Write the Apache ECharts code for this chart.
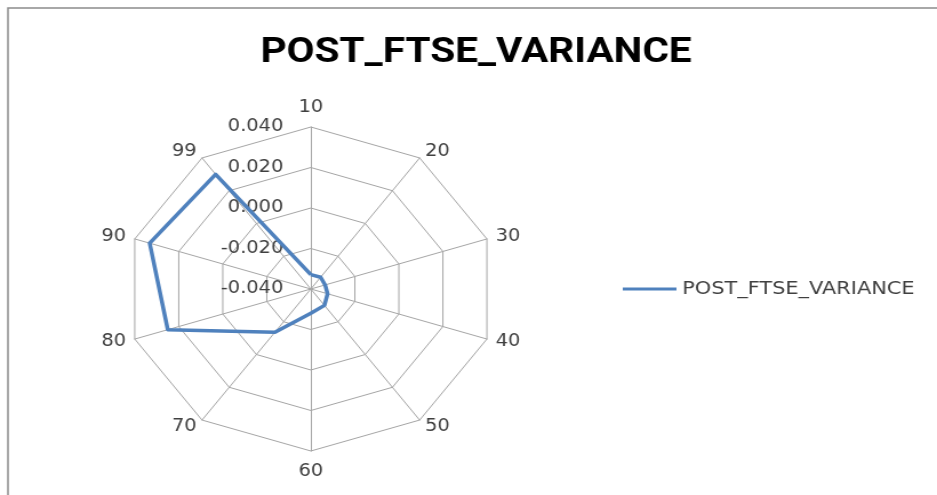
<!DOCTYPE html>
<html><head><meta charset="utf-8">
<script src="https://cdn.jsdelivr.net/npm/echarts@6/dist/echarts.min.js"></script>
<style>
html,body{margin:0;padding:0;background:#fff;overflow:hidden}
#wrap{width:937px;height:495px;overflow:hidden;position:relative}
#chart{width:820px;height:495px;transform:scaleX(1.1427);transform-origin:0 0}
</style></head><body>
<div id="wrap"><div id="chart"></div></div>
<script>
const chartTitle = 'POST_FTSE_VARIANCE';
const seriesName = 'POST_FTSE_VARIANCE';
const categories = ['10', '20', '30', '40', '50', '60', '70', '80', '90', '99'];
const values = [-0.0329, -0.0328, -0.0335, -0.0324, -0.0300, -0.0280, -0.0136, 0.0250, 0.0332, 0.0300];
const radialTicks = [-0.04, -0.02, 0, 0.02, 0.04];

// ECharts places radar indicators counter-clockwise; reorder so the chart reads clockwise
const order = [0].concat(categories.map((c, i) => i).slice(1).reverse());
const lblFont = 'DejaVu Sans';
const indicator = order.map((i, k) => {
  const ind = { name: categories[i], min: radialTicks[0], max: radialTicks[radialTicks.length - 1] };
  if (k === 0) {
    ind.nameGap = 11;
    ind.axisLabel = {
      show: true, margin: 24, color: '#404040', fontSize: 17, fontFamily: lblFont,
      formatter: v => v.toFixed(3)
    };
  }
  if (categories[i] === '60') ind.nameGap = 12;
  return ind;
});
const data = order.map(i => values[i]);

const chart = echarts.init(document.getElementById('chart'), null, { renderer: 'canvas' });
chart.setOption({
  animation: false,
  backgroundColor: '#fff',
  title: {
    text: chartTitle, left: 416.6, top: 35, padding: 0, textAlign: 'center',
    textStyle: { fontFamily: 'Roboto', fontWeight: 'bold', fontSize: 35.5, color: '#000' }
  },
  legend: {
    left: 545, top: 280, padding: 0,
    icon: 'rect', itemWidth: 47, itemHeight: 3,
    textStyle: { fontFamily: lblFont, fontSize: 18.3, color: '#404040' },
    data: [seriesName]
  },
  graphic: [{
    type: 'rect', silent: true,
    shape: { x: 7, y: 8, width: 900, height: 600 },
    style: { fill: 'none', stroke: '#8c8c8c', lineWidth: 1.5 }
  }],
  radar: {
    center: [272, 289], radius: 162, startAngle: 90,
    shape: 'polygon', splitNumber: radialTicks.length - 1,
    nameGap: 8,
    axisName: { color: '#404040', fontSize: 17, fontFamily: lblFont },
    axisLine: { lineStyle: { color: '#a6a6a6', width: 1 } },
    splitLine: { lineStyle: { color: '#a6a6a6', width: 1 } },
    splitArea: { show: false },
    axisTick: { show: false },
    axisLabel: { show: false },
    indicator: indicator
  },
  series: [{
    type: 'radar', name: seriesName,
    symbol: 'none',
    lineStyle: { color: '#4f81bd', width: 3.5 },
    itemStyle: { color: '#4f81bd' },
    data: [{ value: data, name: seriesName }]
  }]
});
</script>
</body></html>
